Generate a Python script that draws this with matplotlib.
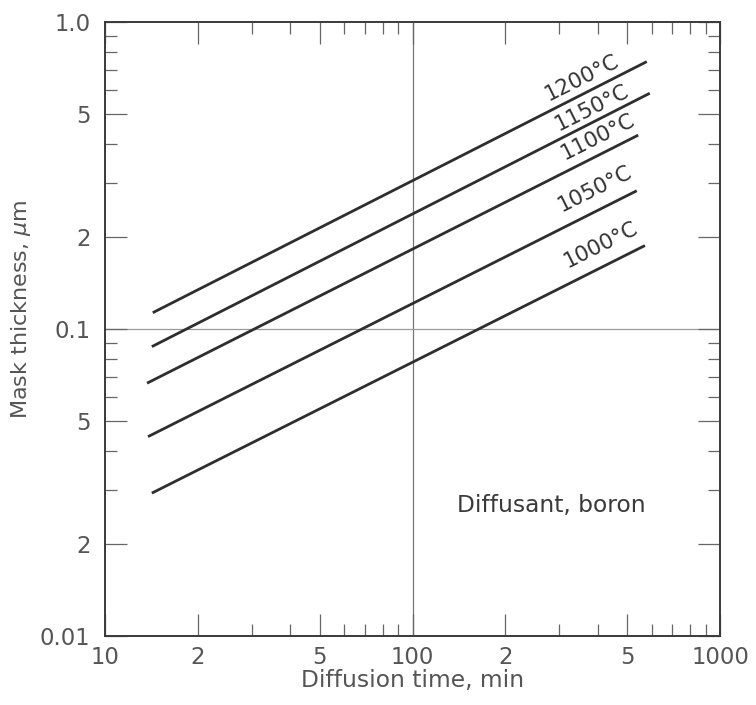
import matplotlib
matplotlib.use("Agg")
import matplotlib.pyplot as plt
from matplotlib.ticker import FixedLocator, FixedFormatter
import numpy as np

# Data (log-log straight lines)
temperatures = ["1200°C", "1150°C", "1100°C", "1050°C", "1000°C"]
t_start = [14.3, 14.2, 13.7, 13.8, 14.2]          # diffusion time, min
t_end = [578, 591, 542, 536, 570]
thick_start = [0.113, 0.0876, 0.0666, 0.0446, 0.0292]  # mask thickness, um
thick_end = [0.743, 0.586, 0.428, 0.282, 0.187]
label_x = [356, 383, 402, 392, 409]
label_y = [0.660, 0.524, 0.423, 0.287, 0.188]

x_major = [10, 20, 50, 100, 200, 500, 1000]
x_major_labels = ["10", "2", "5", "100", "2", "5", "1000"]
y_major = [0.01, 0.02, 0.05, 0.1, 0.2, 0.5, 1.0]
y_major_labels = ["0.01", "2", "5", "0.1", "2", "5", "1.0"]
minor_mult = [3, 4, 6, 7, 8, 9]

plt.rcParams['font.family'] = ['DejaVu Sans']
dpi = 100
fig = plt.figure(figsize=(7.56, 7.05), dpi=dpi)
ax = fig.add_axes([105/756, 1-636/705, 615/756, 614/705])
ax.set_xscale('log')
ax.set_yscale('log')
ax.set_xlim(10, 1000)
ax.set_ylim(0.01, 1.0)

line_color = '#2e2e2e'
for ts, te, ys, ye in zip(t_start, t_end, thick_start, thick_end):
    ax.plot([ts, te], [ys, ye], color=line_color, lw=2.0, solid_capstyle='butt')

ang = np.degrees(np.arctan(0.5 * (614/2.0) / (615/2.0)))
for lab, lx, ly in zip(temperatures, label_x, label_y):
    ax.text(lx, ly, lab, rotation=ang, rotation_mode='anchor', ha='center', va='center',
            fontsize=15.5, color='#333333')

ax.text(140, 0.0267, "Diffusant, boron", ha='left', va='center', fontsize=16.8, color='#3a3a3a')

# grid lines at 100 and 0.1
ax.axvline(100, color='#777777', lw=0.9, zorder=0)
ax.axhline(0.1, color='#999999', lw=0.9, zorder=0)

# ticks
ax.xaxis.set_major_locator(FixedLocator(x_major))
ax.xaxis.set_major_formatter(FixedFormatter(x_major_labels))
xminor = [m * d for d in (10, 100) for m in minor_mult]
ax.xaxis.set_minor_locator(FixedLocator(xminor))
ax.xaxis.set_minor_formatter(FixedFormatter([""] * len(xminor)))

ax.yaxis.set_major_locator(FixedLocator(y_major))
ax.yaxis.set_major_formatter(FixedFormatter(y_major_labels))
yminor = [m * d for d in (0.001, 0.01, 0.1) for m in minor_mult if m * d < 1.0 and m * d > 0.01]
ax.yaxis.set_minor_locator(FixedLocator(yminor))
ax.yaxis.set_minor_formatter(FixedFormatter([""] * len(yminor)))

spine_color = '#3a3a3a'
for s in ax.spines.values():
    s.set_color(spine_color)
    s.set_linewidth(1.4)

ax.tick_params(which='major', direction='in', length=22*72/dpi, width=0.9, color='#666666',
               top=True, right=True, labelsize=16.4, labelcolor='#555555')
ax.tick_params(which='minor', direction='in', length=12*72/dpi, width=0.9, color='#666666',
               top=True, right=True)
ax.tick_params(axis='x', which='major', pad=7)
ax.tick_params(axis='y', which='major', pad=10.5)

ax.set_xlabel("Diffusion time, min", fontsize=16.8, color='#555555')
ax.set_ylabel(r"Mask thickness, $\mu$m", fontsize=16, color='#555555')
ax.xaxis.set_label_coords(0.5, -0.053)
ax.yaxis.set_label_coords(-0.117, 0.532)

fig.savefig("out.png", dpi=dpi, facecolor='white')
